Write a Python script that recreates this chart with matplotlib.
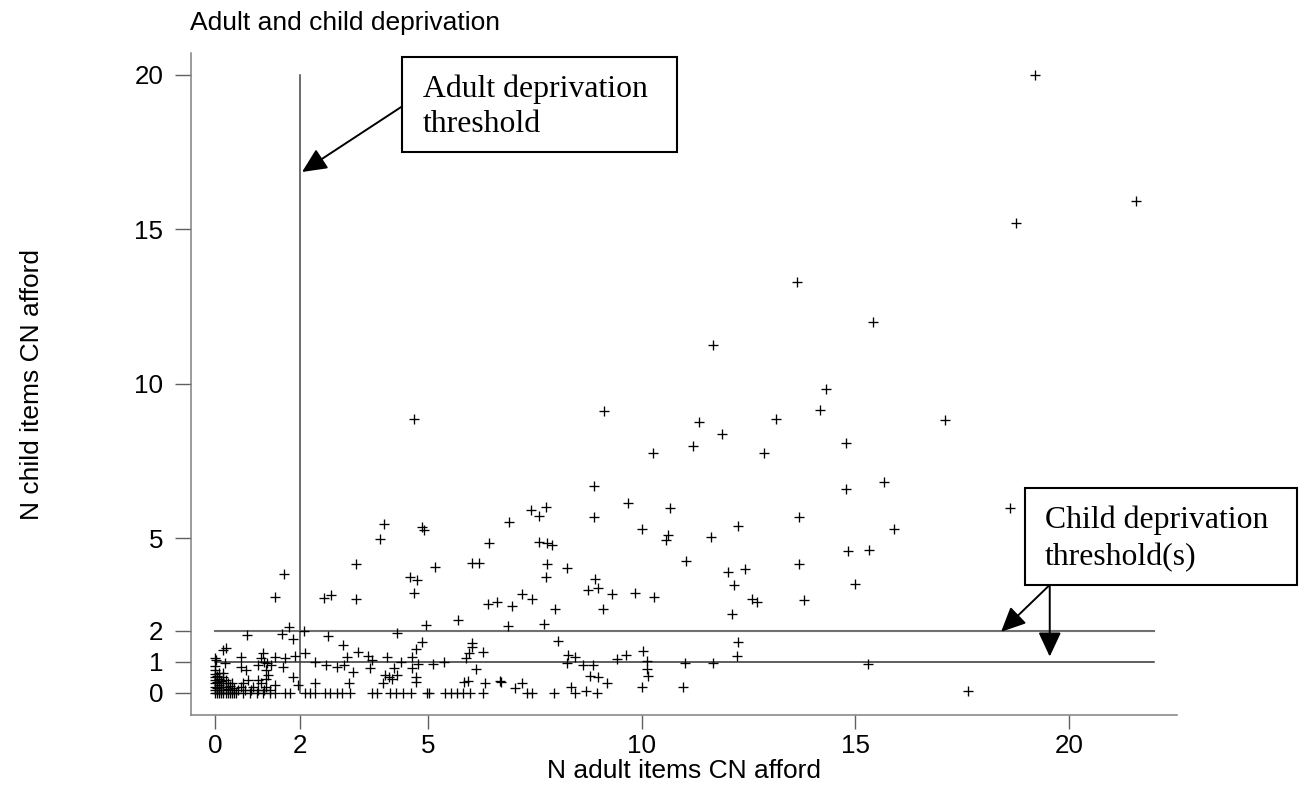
import matplotlib
matplotlib.use("Agg")
import matplotlib.pyplot as plt
from matplotlib.patches import Rectangle

# ---- data -------------------------------------------------------------
adult_items = [
    19.2, 21.56, 18.77, 13.64, 15.42, 11.66, 14.3, 14.18, 11.33, 13.13, 17.1, 11.87, 11.19, 12.85,
    14.79, 14.77, 15.67, 18.62, 13.68, 12.26, 11.62, 15.91, 14.83, 15.32, 11.03, 12.02, 12.41, 13.68,
    4.66, 9.11, 10.26, 8.88, 9.67, 10.66, 7.40, 7.75, 7.6, 8.88, 6.89, 3.97, 4.86, 4.9, 3.87, 6.42,
    7.59, 7.77, 7.9, 9.99, 10.6, 10.57, 3.3, 5.16, 6.03, 6.19, 7.77, 8.24, 1.62, 4.57, 4.73, 7.75, 8.91,
    4.66, 1.41, 2.55, 2.72, 3.3, 6.39, 5.7, 4.95, 1.74, 2.08, 0.74, 1.58, 1.84, 2.65, 4.27, 2.99, 4.86,
    4.7, 6.02, 6.27, 0.2, 0.27, 2.11, 3.34, 1.13, 0.6, 1.41, 1.64, 1.87, 3.1, 3.59, 3.69, 4.04, 4.62,
    0.0, 0.02, 0.0, 0.23, 1.07, 1.15, 1.22, 1.31, 1.01, 1.6, 2.34, 2.6, 2.85, 3.02, 3.24, 3.63, 4.19,
    4.35, 4.61, 4.76, 5.11, 5.36, 5.89, 5.96, 6.01, 6.11, 0.6, 0.73, 1.19, 1.25, 1.84, 0.2, 3.98, 4.08,
    4.14, 4.27, 4.72, 4.71, 3.93, 1.95, 2.34, 3.15, 5.83, 5.93, 6.32, 0.66, 0.78, 1.01, 1.09, 1.19, 1.41,
    0.5, 0.66, 0.82, 0.98, 1.13, 1.29, 1.41, 1.64, 1.76, 2.11, 2.22, 2.34, 2.58, 2.69, 2.85, 2.97, 3.16,
    3.69, 3.79, 4.1, 4.25, 4.41, 4.6, 4.97, 5.02, 5.39, 5.54, 5.66, 5.81, 5.97, 6.28,
    0.55, 0.7, 0.85, 1.0, 1.15, 1.3, 0.62, 0.9, 1.2,
    0.0, 0.0, 0.0, 0.0, 0.0, 0.0, 0.0, 0.0, 0.05, 0.05, 0.05, 0.05, 0.1, 0.1, 0.1, 0.1, 0.1,
    0.15, 0.15, 0.15, 0.2, 0.2, 0.2, 0.2, 0.25, 0.25, 0.25, 0.3, 0.3, 0.3, 0.35, 0.35,
    0.4, 0.4, 0.4, 0.45, 0.45,
    12.15, 8.74, 8.98, 9.29, 9.84, 10.28, 7.18, 7.42, 6.95, 6.61, 7.96, 9.09, 12.57, 12.69, 12.12,
    6.87, 7.71, 8.03, 12.26, 12.22, 8.28, 8.43, 8.24, 8.63, 8.86, 9.42, 9.62, 10.02, 10.11, 10.11,
    10.15, 11.0, 11.66, 8.78, 8.96, 9.19, 9.99, 10.97, 6.67, 6.71, 7.03, 7.18, 7.3, 7.42, 7.94, 8.33,
    8.43, 8.69, 8.95,
    15.0, 13.8, 15.3, 17.63,
]
child_items = [
    20.0, 15.92, 15.21, 13.28, 12.0, 11.25, 9.83, 9.15, 8.77, 8.85, 8.83, 8.36, 7.99, 7.77,
    8.07, 6.59, 6.81, 5.97, 5.68, 5.41, 5.03, 5.29, 4.6, 4.62, 4.27, 3.92, 3.99, 4.17,
    8.85, 9.13, 7.75, 6.69, 6.13, 5.99, 5.91, 6.0, 5.73, 5.68, 5.53, 5.46, 5.37, 5.27, 4.98, 4.86,
    4.89, 4.83, 4.78, 5.29, 5.1, 4.94, 4.15, 4.08, 4.21, 4.21, 4.16, 4.03, 3.83, 3.76, 3.64, 3.75, 3.67,
    3.22, 3.09, 3.05, 3.17, 3.03, 2.86, 2.35, 2.19, 2.14, 2.01, 1.87, 1.9, 1.73, 1.83, 1.94, 1.54, 1.65,
    1.4, 1.6, 1.33, 1.38, 1.44, 1.27, 1.31, 1.27, 1.17, 1.15, 1.11, 1.19, 1.17, 1.19, 1.06, 1.17, 1.17,
    1.11, 1.06, 0.86, 0.95, 1.11, 1.0, 0.97, 0.89, 0.9, 0.82, 1.0, 0.9, 0.82, 0.9, 0.68, 0.79, 0.79,
    1.0, 0.79, 0.93, 0.93, 1.0, 1.11, 1.27, 1.47, 0.76, 0.82, 0.73, 0.73, 0.57, 0.52, 0.63, 0.57, 0.5,
    0.43, 0.57, 0.52, 0.36, 0.3, 0.25, 0.32, 0.3, 0.36, 0.39, 0.32, 0.32, 0.41, 0.41, 0.32, 0.46, 0.25,
    0.0, 0.0, 0.0, 0.0, 0.0, 0.0, 0.0, 0.0, 0.0, 0.0, 0.0, 0.0, 0.0, 0.0, 0.0, 0.0, 0.0,
    0.0, 0.0, 0.0, 0.0, 0.0, 0.0, 0.0, 0.0, 0.0, 0.0, 0.0, 0.0, 0.0, 0.0,
    0.1, 0.1, 0.1, 0.1, 0.1, 0.1, 0.2, 0.2, 0.2,
    0.0, 0.1, 0.2, 0.3, 0.4, 0.5, 0.6, 0.72, 0.0, 0.15, 0.35, 0.55, 0.0, 0.08, 0.25, 0.45, 0.65,
    0.0, 0.18, 0.38, 0.0, 0.1, 0.3, 0.5, 0.0, 0.2, 0.4, 0.0, 0.12, 0.3, 0.0, 0.22,
    0.0, 0.08, 0.3, 0.0, 0.15,
    3.49, 3.32, 3.38, 3.19, 3.22, 3.11, 3.18, 3.02, 2.82, 2.95, 2.71, 2.71, 3.02, 2.95, 2.55,
    2.16, 2.21, 1.67, 1.65, 1.19, 1.22, 1.17, 0.97, 0.9, 0.89, 1.08, 1.22, 1.35, 1.04, 0.76,
    0.54, 0.97, 0.97, 0.54, 0.52, 0.32, 0.19, 0.19, 0.39, 0.36, 0.14, 0.3, 0.0, 0.0, 0.0, 0.17,
    0.0, 0.06, 0.0,
    3.51, 3.0, 0.92, 0.06,
]

adult_threshold = 2
child_thresholds = [1, 2]
x_ticks = [0, 2, 5, 10, 15, 20]
y_ticks = [0, 1, 2, 5, 10, 15, 20]

title = "Adult and child deprivation"
x_label = "N adult items CN afford"
y_label = "N child items CN afford"

# ---- figure -----------------------------------------------------------
W, H = 1308, 786
fig = plt.figure(figsize=(W / 100, H / 100), dpi=100)
ax = fig.add_axes([191 / W, 1 - 715 / H, (1177 - 191) / W, (715 - 53) / H])
ax.set_xlim(-0.56, 22.53)
ax.set_ylim(-0.72, 20.7)

sans = "Liberation Sans"
serif = "Liberation Serif"

# threshold lines
ax.plot([adult_threshold, adult_threshold], [0, 20], color="#444444", lw=1.1, zorder=1)
ax.plot([0, 22], [child_thresholds[1]] * 2, color="#707070", lw=1.5, zorder=1)
ax.plot([0, 22], [child_thresholds[0]] * 2, color="#333333", lw=1.1, zorder=1)

ax.scatter(adult_items, child_items, marker="+", s=46, linewidths=0.95, color="black", zorder=3)

for s in ["top", "right"]:
    ax.spines[s].set_visible(False)
for s in ["left", "bottom"]:
    ax.spines[s].set_color("#808080")
    ax.spines[s].set_linewidth(1.1)

ax.set_xticks(x_ticks)
ax.set_yticks(y_ticks)
ax.set_xticklabels([str(v) for v in x_ticks], fontfamily=sans, fontsize=18.7)
ax.set_yticklabels([str(v) for v in y_ticks], fontfamily=sans, fontsize=18.7)
ax.tick_params(axis="x", length=10, width=1, color="#606060", pad=3.5)
ax.tick_params(axis="y", length=11.3, width=1, color="#606060", pad=8.6)

fig.text(190 / W, 1 - 30 / H, title, fontfamily=sans, fontsize=19, ha="left", va="baseline")
fig.text(684 / W, 1 - 778 / H, x_label, fontfamily=sans, fontsize=19, ha="center", va="baseline")
fig.text(32 / W, 1 - 384 / H, y_label, fontfamily=sans, fontsize=19, ha="center", va="center",
         rotation=90)

# annotation boxes
box_kw = dict(fill=False, edgecolor="black", lw=1.5, clip_on=False, zorder=5)
ax.add_patch(Rectangle((4.37, 17.51), 10.81 - 4.37, 20.58 - 17.51, **box_kw))
ax.text(4.87, 19.29, "Adult deprivation", fontfamily=serif, fontsize=22.9, va="baseline", ha="left")
ax.text(4.87, 18.16, "threshold", fontfamily=serif, fontsize=22.9, va="baseline", ha="left")

ax.add_patch(Rectangle((18.97, 3.49), 25.34 - 18.97, 6.61 - 3.49, facecolor="white",
                       edgecolor="black", lw=1.5, clip_on=False, zorder=5))
ax.text(19.44, 5.33, "Child deprivation", fontfamily=serif, fontsize=22.9, va="baseline",
        ha="left", zorder=6, clip_on=False)
ax.text(19.44, 4.13, "threshold(s)", fontfamily=serif, fontsize=22.9, va="baseline",
        ha="left", zorder=6, clip_on=False)

arrow_kw = dict(arrowstyle="-|>,head_length=0.75,head_width=0.35", color="black", lw=1.4,
                shrinkA=0, shrinkB=0, mutation_scale=20)
ax.annotate("", xy=(2.04, 16.85), xytext=(4.37, 18.96), arrowprops=arrow_kw, annotation_clip=False)
ax.annotate("", xy=(18.41, 1.97), xytext=(19.55, 3.49), arrowprops=arrow_kw, annotation_clip=False)
ax.annotate("", xy=(19.55, 1.17), xytext=(19.55, 3.49), arrowprops=arrow_kw, annotation_clip=False)

fig.savefig("out.png", dpi=100)
